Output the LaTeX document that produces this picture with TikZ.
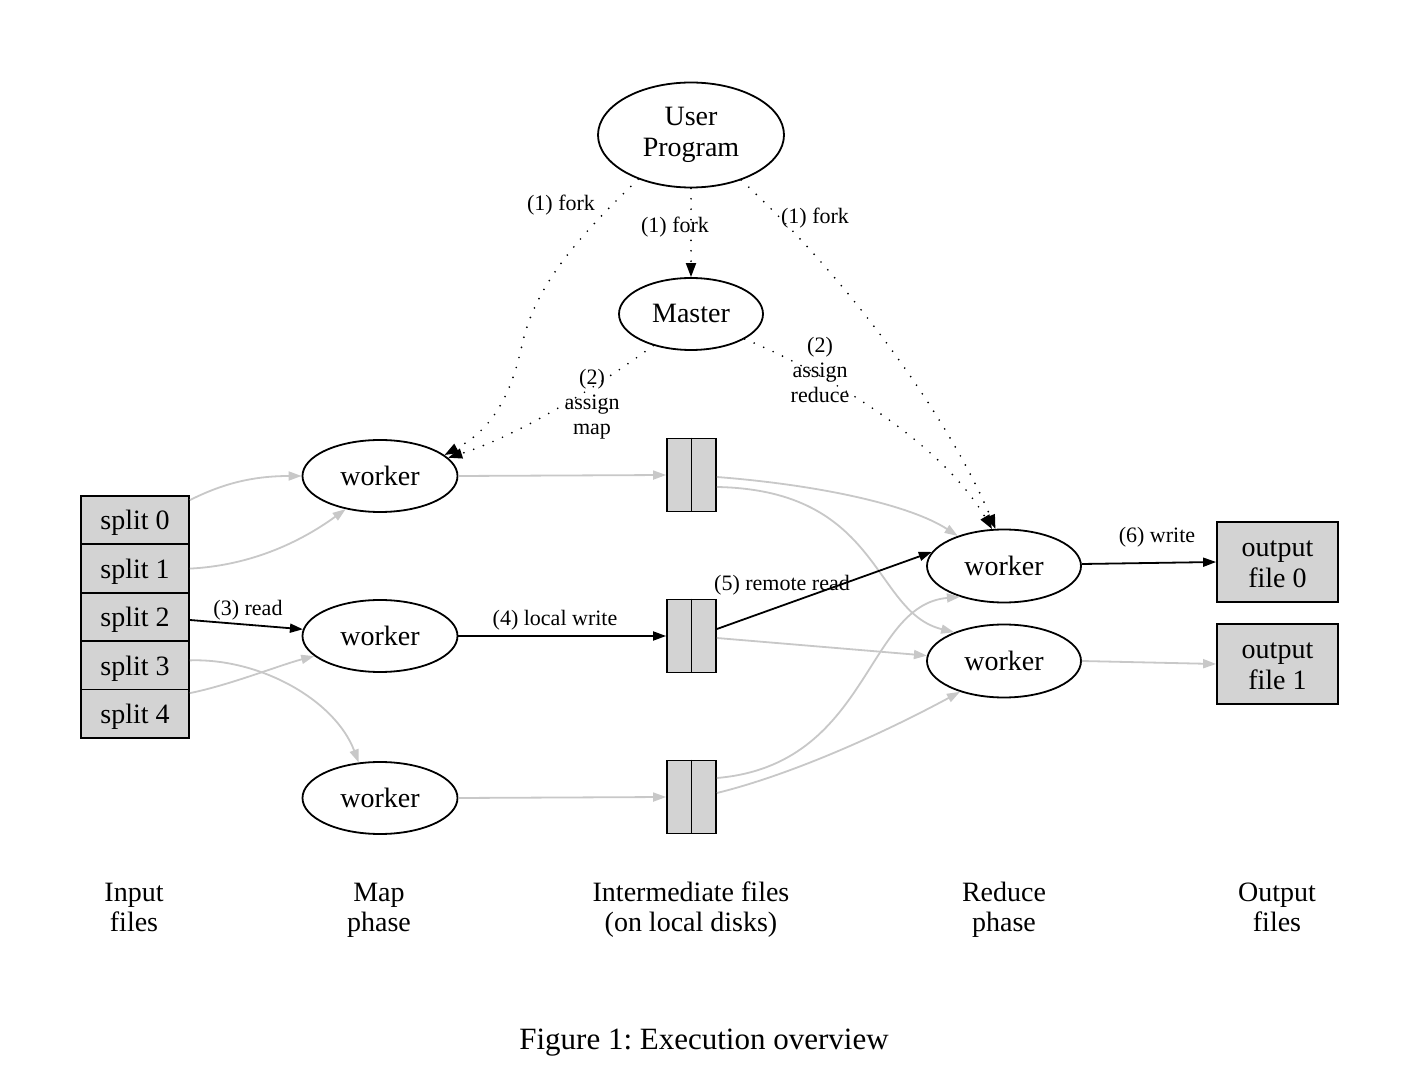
\documentclass[tikz,border=0pt]{standalone}
\usepackage{fontspec}
\setmainfont{Liberation Serif}
\usetikzlibrary{shapes.geometric,arrows.meta}
\definecolor{boxfill}{RGB}{211,211,211}
\definecolor{edgegray}{RGB}{200,200,200}
\frenchspacing
\tikzset{
  nodefont/.style={font=\fontsize{14}{15.5}\selectfont},
  ell/.style={ellipse, draw, line width=0.9pt, inner sep=0pt, align=center, nodefont},
  wrk/.style={ell, minimum width=77.5pt, minimum height=36pt},
  gbox/.style={rectangle, draw, fill=boxfill, line width=0.9pt, inner sep=0pt, align=center, nodefont},
  lbl/.style={font=\fontsize{11}{12.5}\selectfont, align=center, inner sep=0pt},
  phase/.style={font=\fontsize{14}{15}\selectfont, align=center, inner sep=0pt},
  headstyle/.style={-{Triangle[length=6.5pt,width=4.5pt]}},
  blk/.style={line width=0.9pt, headstyle},
  gry/.style={color=edgegray, line width=0.9pt, headstyle},
  dotline/.style={line width=0.95pt, line cap=round, dash pattern=on 0pt off 5.2pt, -{Triangle[length=7pt,width=5pt]}},
}
\begin{document}
\begin{tikzpicture}[x=0.5pt,y=-0.5pt]
\fill[white] (0,0) rectangle (1426,1080);
\useasboundingbox (0,0) rectangle (1426,1080);

% top nodes
\node[ell, minimum width=93pt, minimum height=52.5pt] (up) at (691,135) {User\\Program};
\node[ell, minimum width=72pt, minimum height=36pt, text depth=1pt] (master) at (691,314) {Master};

% splits
\foreach \i in {0,...,4}
  \node[gbox, minimum width=54pt, minimum height=24.2pt, text depth=0pt] (s\i) at (135,{520.2+48.4*\i}) {split \i};

% map workers
\node[wrk] (m1) at (380,476) {worker};
\node[wrk] (m2) at (380,636) {worker};
\node[wrk] (m3) at (380,798) {worker};

% intermediate files
\node[gbox, minimum width=24.5pt, minimum height=36.5pt] (f1) at (691.5,475) {};
\node[gbox, minimum width=24.5pt, minimum height=36.5pt] (f2) at (691.5,636) {};
\node[gbox, minimum width=24.5pt, minimum height=36.5pt] (f3) at (691.5,797) {};
\foreach \f in {f1,f2,f3}
  \draw[line width=0.9pt] (\f.north) -- (\f.south);

% reduce workers
\node[ell, minimum width=77pt, minimum height=36.5pt] (r1) at (1004,566) {worker};
\node[ell, minimum width=77pt, minimum height=36.5pt] (r2) at (1004,661) {worker};

% outputs
\node[gbox, minimum width=60.5pt, minimum height=40pt] (o0) at (1277.5,562) {\rule{0pt}{10.6pt}output\\file 0};
\node[gbox, minimum width=60.5pt, minimum height=40pt] (o1) at (1277.5,664) {\rule{0pt}{10.6pt}output\\file 1};

% dotted fork / assign edges
\draw[dotline] (up.south) -- (master.north);
\draw[dotline] (up.-140) .. controls (580,235) and (535,285) .. (522,345)
   .. controls (510,400) and (490,430) .. (m1.18);
\draw[dotline] (up.-42) .. controls (850,280) and (950,420) .. (r1.103);
\draw[dotline] (master.-140) .. controls (600,385) and (520,435) .. (m1.15);
\draw[dotline] (master.-25) .. controls (820,370) and (940,440) .. (r1.108);

\node[lbl] (lf1) at (561,205) {(1) fork};
\node[lbl] (lf2) at (675,227) {(1) fork};
\node[lbl] (lf3) at (815,218) {(1) fork};
\node[lbl] (lam) at (592,405) {(2)\strut\\assign\strut\\map\strut};
\node[lbl] (lar) at (820,373) {(2)\strut\\assign\strut\\reduce\strut};

% input -> map
\draw[gry] ([yshift=-2.5pt]s0.north east) .. controls (220,485) and (250,476) .. (m1.west);
\draw[gry] (s1.east) .. controls (260,565) and (310,535) .. (m1.-136);
\draw[blk] ([yshift=-1.5pt]s2.east) -- (m2.175);
\draw[gry] ([yshift=2.5pt]s3.east) .. controls (260,658) and (335,700) .. (m3.121);
\draw[gry] ([yshift=-2.2pt]s4.north east) .. controls (230,685) and (280,665) .. (m2.-163);
\node[lbl] (l3) at (248,610) {(3) read};

% map -> intermediate
\draw[gry] (m1.east) -- (f1.west);
\draw[blk] (m2.east) -- (f2.west);
\draw[gry] (m3.east) -- (f3.west);
\node[lbl] (l4) at (555,620) {(4) local write};

% intermediate -> reduce
\draw[gry] ([yshift=-1pt]f1.east) .. controls (820,485) and (910,505) .. (r1.147);
\draw[gry] ([yshift=-6pt]f1.east) .. controls (882,490) and (872,612) .. (r2.150);
\draw[gry] ([yshift=-1pt]f2.east) -- (r2.176);
\draw[gry] ([yshift=9.5pt]f3.east) .. controls (870,765) and (865,605) .. (r1.-145);
\draw[gry] ([yshift=2pt]f3.east) .. controls (790,775) and (880,735) .. (r2.-145);
\draw[blk] ([yshift=3.5pt]f2.east) -- (r1.169);
\node[lbl] (l5) at (782,585) {(5) remote read};

% reduce -> output
\draw[blk] ([yshift=1pt]r1.east) -- (o0.west);
\draw[gry] (r2.east) -- (o1.west);
\node[lbl] (l6) at (1157,537) {(6) write};

% phase labels
\node[phase] (pin) at (134,910) {Input\strut\\files\strut};
\node[phase] (pmap) at (379,910) {Map\strut\\phase\strut};
\node[phase] (pint) at (691,910) {Intermediate files\strut\\(on local disks)\strut};
\node[phase] (pred) at (1004,910) {Reduce\strut\\phase\strut};
\node[phase] (pout) at (1277,910) {Output\strut\\files\strut};

\node[font=\fontsize{15.5}{17}\selectfont, inner sep=0pt, anchor=base] (cap) at (704,1049) {Figure 1: Execution overview};
\end{tikzpicture}
\end{document}
